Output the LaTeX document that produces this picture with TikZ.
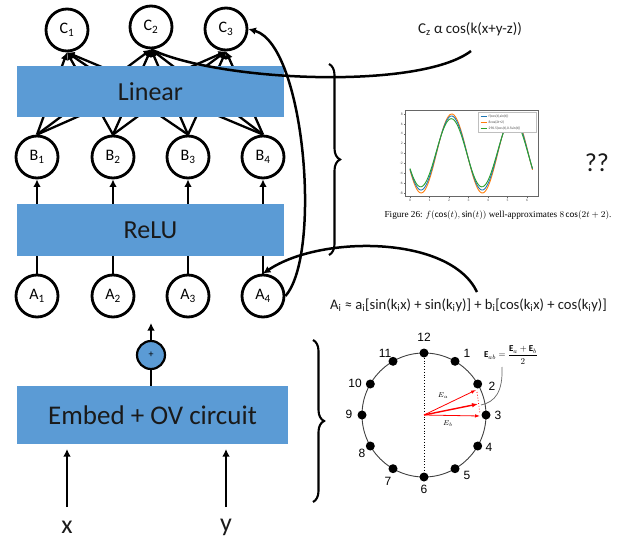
\documentclass[tikz,border=0pt]{standalone}
\usepackage{fontspec}
\usepackage{graphicx}
\setmainfont{Carlito}
\newfontfamily\helv{Liberation Sans}
\newfontfamily\tms{Liberation Serif}
\usetikzlibrary{arrows.meta,decorations.pathreplacing,calc}
\definecolor{boxblue}{HTML}{5B9BD5}
\definecolor{mplblue}{HTML}{1F77B4}
\definecolor{mplorange}{HTML}{FF7F0E}
\definecolor{mplgreen}{HTML}{2CA02C}
\definecolor{txtdark}{HTML}{1A1A1A}
\begin{document}
\begin{tikzpicture}[x=1pt,y=-1pt,
  neuron/.style={circle,draw,line width=2.8pt,minimum size=42pt,inner sep=0pt,fill=white,font=\fontsize{16}{16}\selectfont},
  layer/.style={fill=boxblue,inner sep=0pt,text=txtdark,font=\fontsize{26}{26}\selectfont},
  conn/.style={line width=2.3pt,-{Latex[length=7.5pt,width=7.5pt]}},
  plain/.style={line width=2.3pt},
  curv/.style={line width=2.5pt},
  bracestyle/.style={line width=2.1pt,decorate,decoration={brace,amplitude=11pt}},
  tick/.style={font=\fontsize{3.6}{4}\selectfont,text=black!70,inner sep=0.5pt},
  clk/.style={font=\helv\fontsize{12}{12}\selectfont},
  dot/.style={circle,fill=black,minimum size=9pt,inner sep=0pt}]
\useasboundingbox (0,0) rectangle (626,540);

% ---------- neurons ----------
\node[neuron] (c1) at (67,30) {C\textsubscript{1}};
\node[neuron] (c2) at (151,27) {C\textsubscript{2}};
\node[neuron] (c3) at (226,29) {C\textsubscript{3}};
\foreach \i/\x in {1/37,2/113,3/188,4/263}{
  \node[neuron] (b\i) at (\x,157) {B\textsubscript{\i}};
  \node[neuron] (a\i) at (\x,296) {A\textsubscript{\i}};
}

% ---------- connections behind boxes ----------
\foreach \i in {1,2,3,4}{
  \foreach \j in {1,2,3}{
    \draw[conn] (b\i.north) -- (c\j.south);
  }
  \draw[conn] (a\i) -- (b\i);
}

% ---------- layer boxes ----------
\node[layer,minimum width=267pt,minimum height=51pt] (lin) at (150.5,91.5) {Linear};
\node[layer,minimum width=267pt,minimum height=52pt] (relu) at (150.5,230) {ReLU};
\node[layer,minimum width=271pt,minimum height=58pt,font=\fontsize{27}{27}\selectfont] (emb) at (152.5,415) {Embed + OV circuit};

% ---------- plus node ----------
\node[circle,draw,line width=2.2pt,fill=boxblue,minimum size=28pt,inner sep=0pt,font=\fontsize{10}{10}\selectfont] (plus) at (151,355) {+};
\coordinate (pt) at (151,323);
\draw[conn] (plus) -- (pt);
\draw[plain] (plus |- emb.north) -- (plus);

% ---------- inputs ----------
\node[font=\fontsize{26}{26}\selectfont,text=txtdark] (xl) at (67,527) {x};
\node[font=\fontsize{26}{26}\selectfont,text=txtdark] (yl) at (226,527) {y};
\coordinate (xb) at (67,507); \coordinate (xt) at (67,449);
\coordinate (yb) at (226,507); \coordinate (yt) at (226,449);
\draw[conn] (xb) -- (xt);
\draw[conn] (yb) -- (yt);

% ---------- formulas ----------
\node[font=\fontsize{15}{15}\selectfont,text=txtdark] (fc) at (470,29) {C\textsubscript{z} α cos(k(x+y-z))};
\node[font=\fontsize{14.6}{14.6}\selectfont,text=txtdark] (fa) at (468.5,305) {A\textsubscript{i} ≈ a\textsubscript{i}[sin(k\textsubscript{i}x) + sin(k\textsubscript{i}y)] + b\textsubscript{i}[cos(k\textsubscript{i}x) + cos(k\textsubscript{i}y)]};
\node[font=\fontsize{26}{26}\selectfont,text=txtdark] (qq) at (597,163) {??};
\coordinate (fce) at (471,51);
\coordinate (fat) at (477,292);

% ---------- curves ----------
\draw[curv] (c2.south) .. controls (220,82) and (420,90) .. (fce);
\draw[curv,-{Latex[length=7.5pt,width=7.5pt]}] (a4.east) .. controls (322,255) and (305,45) .. (c3.east);
\draw[curv,-{Latex[length=7.5pt,width=7.5pt]}] (fat) .. controls (450,235) and (320,235) .. (a4.north);

% ---------- braces ----------
\draw[bracestyle] (329,64) -- (329,255);
\draw[bracestyle] (313,340) -- (313,502);

% ---------- plot ----------
\draw[line width=0.4pt,black!60] (405,110.5) rectangle (538,196.5);
\foreach \v in {-8,-6,...,8}{
  \draw[line width=0.3pt,black!60] (405,{153.5-4.94*\v}) -- (403.5,{153.5-4.94*\v});
  \node[tick,anchor=east] at (403.5,{153.5-4.94*\v}) {\v};
}
\foreach \t in {0,...,6}{
  \draw[line width=0.3pt,black!60] ({410+19.5*\t},196.5) -- ({410+19.5*\t},198);
  \node[tick,anchor=north] at ({410+19.5*\t},198) {\t};
}
\draw[mplorange,line width=0.9pt] plot[domain=0:6.2832,samples=90,smooth] ({410+19.5*\x},{153.5-4.94*8*cos(deg(2*\x+2))});
\draw[mplblue,line width=0.9pt] plot[domain=0:6.2832,samples=90,smooth] ({410+19.5*\x},{153.5-4.94*(7.5*cos(deg(2*\x+2.02))+0.1)});
\draw[mplgreen,line width=0.9pt] plot[domain=0:6.2832,samples=90,smooth] ({410+19.5*\x},{153.5-4.94*(6.9*cos(deg(2*\x+2.05))+0.15)});
\draw[fill=white,draw=black!25,line width=0.3pt] (478,112.5) rectangle (536,132);
\draw[mplblue,line width=0.8pt] (480.5,116) -- (487,116);
\draw[mplorange,line width=0.8pt] (480.5,122) -- (487,122);
\draw[mplgreen,line width=0.8pt] (480.5,128) -- (487,128);
\node[tick,anchor=west] at (488,116) {f(cos(t),sin(t))};
\node[tick,anchor=west] at (488,122) {8cos(2t+2)};
\node[tick,anchor=west] at (488,128) {290.5(cos(t),0.5sin(t))};
\node[font=\tms\fontsize{9.2}{10}\selectfont] (cap) at (498,215) {Figure 26: $f(\cos(t),\sin(t))$ well-approximates $8\cos(2t+2)$.};

% ---------- clock ----------
\draw[line width=0.9pt,black!75] (424,415) circle[radius=62];
\foreach \k in {1,...,12}{
  \node[dot] (d\k) at ({424+62*cos(90-30*\k)},{415-62*sin(90-30*\k)}) {};
}
\draw[dotted,line width=0.8pt] (d12) -- (d6);
\foreach \n/\px/\py in {12/424/337,11/385/353,1/467/353,10/355/383,2/492/386,9/349/414,3/498/415,8/362/453,4/489/447,7/388/481,5/467/475,6/424/489}{
  \node[clk] at (\px,\py) {\n};
}
\coordinate (o) at (424,415);
\coordinate (ea) at (476,390);
\coordinate (eb) at (480,416);
\coordinate (eab) at (478,404);
\draw[red,line width=0.8pt,-{Latex[length=5pt,width=3.5pt]}] (o) -- (ea);
\draw[red,line width=0.8pt,-{Latex[length=5pt,width=3.5pt]}] (o) -- (eb);
\draw[red,line width=1.4pt,-{Latex[length=6pt,width=4.5pt]}] (o) -- (eab);
\draw[red,dotted,line width=0.8pt] (477,392) -- (480,414);
\node[font=\fontsize{7.5}{8}\selectfont] at (443,396) {$E_a$};
\node[font=\fontsize{7.5}{8}\selectfont] at (448,424) {$E_b$};
\node[inner sep=0pt] (fe) at (511,355) {\scalebox{0.9}{$\displaystyle\mathbf{E}_{ab}=\frac{\mathbf{E}_a+\mathbf{E}_b}{2}$}};
\coordinate (fes) at (502,367);
\draw[black!60,line width=0.7pt] (fes) .. controls (503,392) and (495,402) .. (481,405);
\end{tikzpicture}
\end{document}
